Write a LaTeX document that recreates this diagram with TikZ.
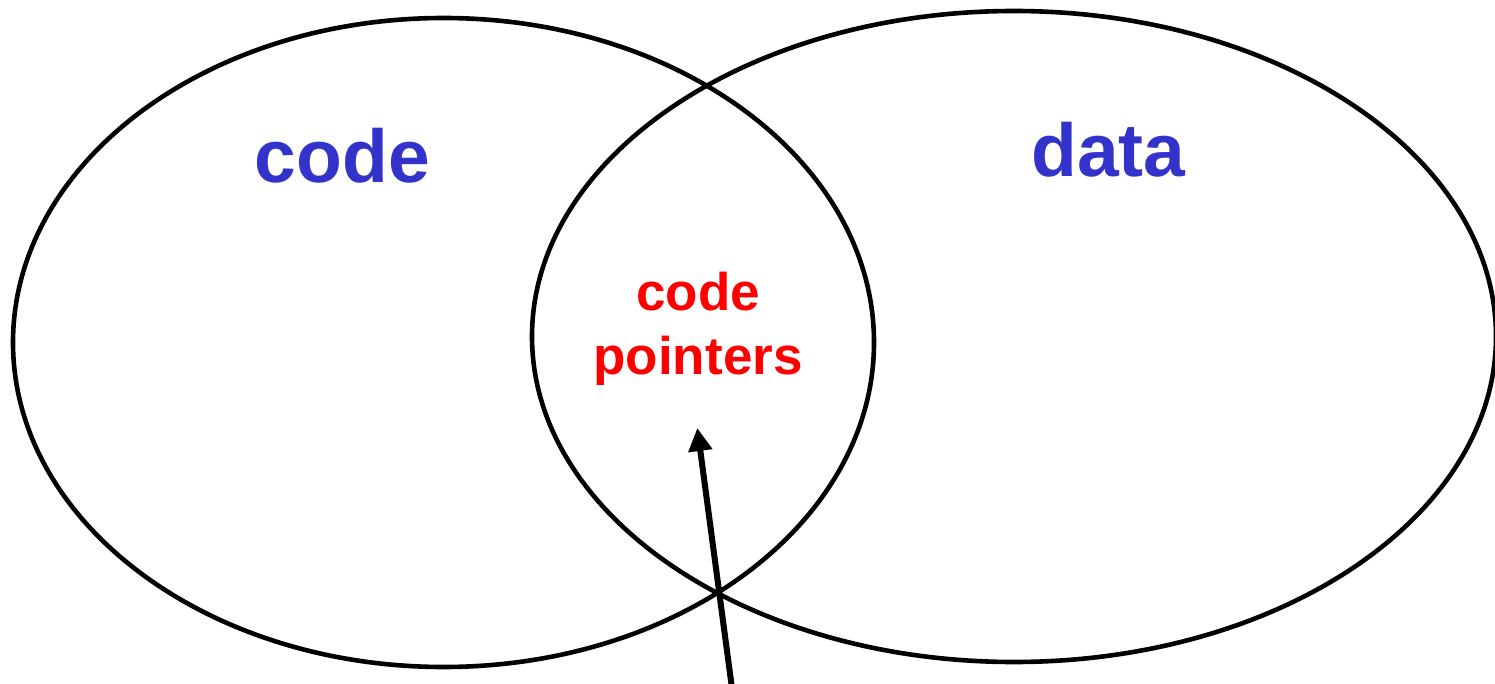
\documentclass[tikz,border=0pt]{standalone}
\usepackage{fontspec}
\setmainfont{Liberation Sans}
\usetikzlibrary{shapes.geometric,arrows.meta}
\definecolor{setblue}{HTML}{3333CC}
\definecolor{ptrred}{HTML}{FF0000}
\tikzset{
  setring/.style={draw=black, line width=4.6pt, ellipse, inner sep=0pt, outer sep=0pt},
  setlabel/.style={font=\bfseries\fontsize{75}{90}\selectfont, text=setblue, anchor=base, inner sep=0pt},
  ptrlabel/.style={font=\bfseries\fontsize{53}{63}\selectfont, text=ptrred, anchor=base, inner sep=0pt},
  pointer/.style={draw=black, line width=6pt, -{Triangle[length=23pt, width=23pt]}}
}
\begin{document}
\begin{tikzpicture}[x=1pt, y=-1pt]
  \useasboundingbox (0,0) rectangle (1495,684);
  % the two overlapping sets
  \node[setring, minimum width=861pt, minimum height=649pt] (codeset) at (443.5,342.5) {};
  \node[setring, minimum width=964pt, minimum height=651pt] (dataset) at (1014,336.5) {};
  % set names
  \node[setlabel] (codename) at (342.5,183) {code};
  \node[setlabel] (dataname) at (1108.5,177) {data};
  % the overlap
  \node[ptrlabel] (ptrtop) at (698,311) {code};
  \node[ptrlabel] (ptrbottom) at (698,374) {pointers};
  % arrow rising into the overlap
  \coordinate (tail) at (732.2,690);
  \coordinate (head) at (697.3,428);
  \draw[pointer] (tail) -- (head);
\end{tikzpicture}
\end{document}
